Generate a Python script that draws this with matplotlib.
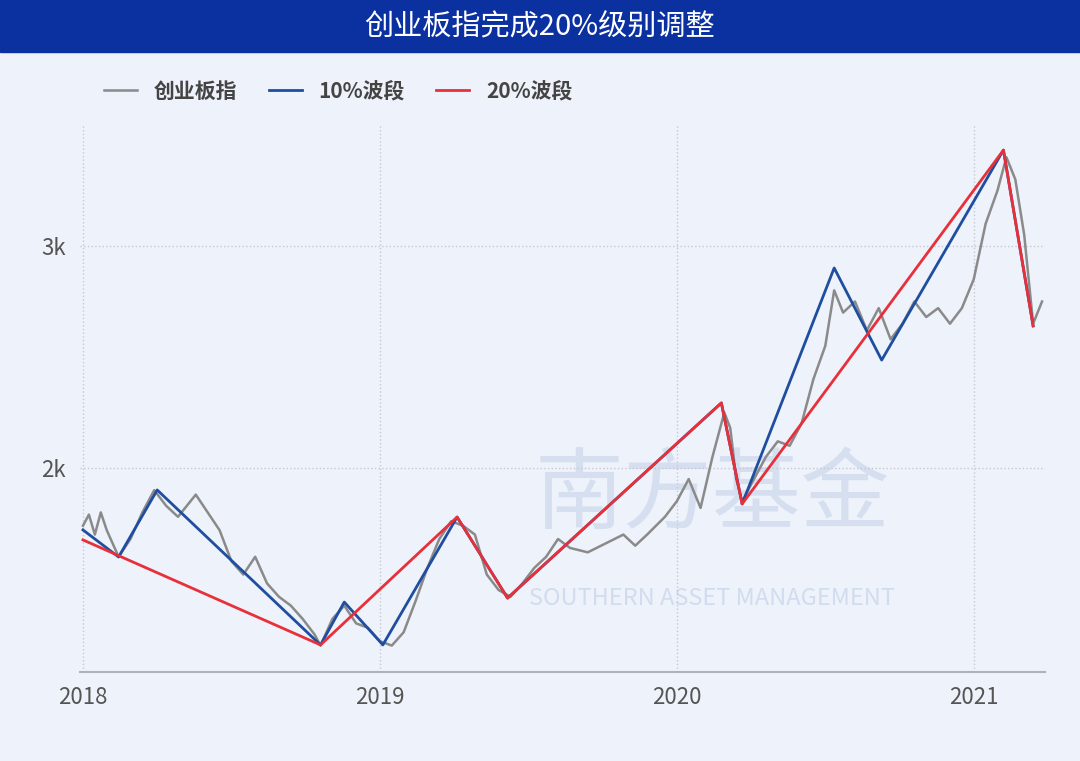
import matplotlib
matplotlib.use("Agg")
import matplotlib.pyplot as plt

plt.rcParams['font.family'] = ['Noto Sans CJK SC', 'DejaVu Sans']

idx_x = [2018.00,2018.02,2018.04,2018.06,2018.08,2018.12,2018.16,2018.20,2018.24,2018.28,2018.32,2018.38,2018.42,2018.46,2018.50,2018.54,2018.58,2018.62,2018.66,2018.70,2018.74,2018.78,2018.80,2018.84,2018.88,2018.92,2018.96,2019.00,2019.04,2019.08,2019.12,2019.16,2019.20,2019.24,2019.28,2019.32,2019.36,2019.40,2019.44,2019.48,2019.52,2019.56,2019.60,2019.64,2019.70,2019.76,2019.82,2019.86,2019.90,2019.96,2020.00,2020.04,2020.08,2020.12,2020.16,2020.18,2020.20,2020.22,2020.26,2020.30,2020.34,2020.38,2020.42,2020.46,2020.50,2020.53,2020.56,2020.60,2020.64,2020.68,2020.72,2020.76,2020.80,2020.84,2020.88,2020.92,2020.96,2021.00,2021.04,2021.08,2021.11,2021.14,2021.17,2021.20,2021.23]
idx_y = [1740,1790,1700,1800,1720,1600,1680,1800,1900,1830,1780,1880,1800,1720,1580,1520,1600,1480,1420,1380,1320,1250,1200,1320,1380,1300,1280,1220,1200,1260,1400,1550,1680,1760,1740,1700,1520,1450,1420,1480,1550,1600,1680,1640,1620,1660,1700,1650,1700,1780,1850,1950,1820,2050,2250,2180,1950,1850,1950,2050,2120,2100,2200,2400,2550,2800,2700,2750,2620,2720,2580,2650,2750,2680,2720,2650,2720,2850,3100,3250,3400,3300,3050,2650,2750]

w10_x = [2018.00,2018.12,2018.25,2018.80,2018.88,2019.01,2019.26,2019.43,2020.15,2020.22,2020.53,2020.69,2021.10,2021.20]
w10_y = [1721,1599,1901,1203,1396,1203,1779,1414,2293,1838,2901,2486,3432,2640]
w20_x = [2018.00,2018.80,2019.26,2019.43,2020.15,2020.22,2021.10,2021.20]
w20_y = [1676,1203,1779,1414,2293,1838,3432,2640]

bg = '#eef2fa'
fig = plt.figure(figsize=(10.8, 7.61), dpi=100, facecolor=bg)
fig.patches.append(plt.Rectangle((0, 1-52/761), 1, 52/761, transform=fig.transFigure, color='#0b30a0', zorder=0))
fig.text(0.5, 1-27/761, '创业板指完成20%级别调整', color='white', fontsize=21, ha='center', va='center')

ax = fig.add_axes([80/1080, 1-672/761, (1045-80)/1080, (672-125)/761], facecolor=bg)
ax.set_xlim(2017.99, 2021.24)
ax.set_ylim(1081, 3545)
ax.plot(idx_x, idx_y, color='#8a8a8a', lw=1.8, label='创业板指')
ax.plot(w10_x, w10_y, color='#1f4ea0', lw=2, label='10%波段')
ax.plot(w20_x, w20_y, color='#e8303a', lw=2, label='20%波段')
ax.set_xticks([2018, 2019, 2020, 2021], ['2018', '2019', '2020', '2021'])
ax.set_yticks([2000, 3000], ['2k', '3k'])
ax.tick_params(colors='#555555', labelsize=16, length=0, pad=10)
ax.grid(True, ls=':', color='#c8c8d0', lw=1)
for s in ['top', 'right', 'left']:
    ax.spines[s].set_visible(False)
ax.spines['bottom'].set_color('#b0b0b8')
ax.spines['bottom'].set_linewidth(1.5)
ax.text(0.655, 0.32, '南方基金', transform=ax.transAxes, fontsize=64, color='#c5d3ea', alpha=0.6, ha='center', va='center', zorder=0)
ax.text(0.655, 0.135, 'SOUTHERN ASSET MANAGEMENT', transform=ax.transAxes, fontsize=17, color='#c5d3ea', alpha=0.7, ha='center', va='center', zorder=0)
leg = fig.legend(loc='upper left', bbox_to_anchor=(85/1080, 1-62/761), ncol=3, frameon=False,
                 handlelength=1.6, columnspacing=1.5, prop={'weight': 'bold', 'size': 15})
for t in leg.get_texts():
    t.set_color('#444444')
fig.savefig('out.png', dpi=100, facecolor=bg)
